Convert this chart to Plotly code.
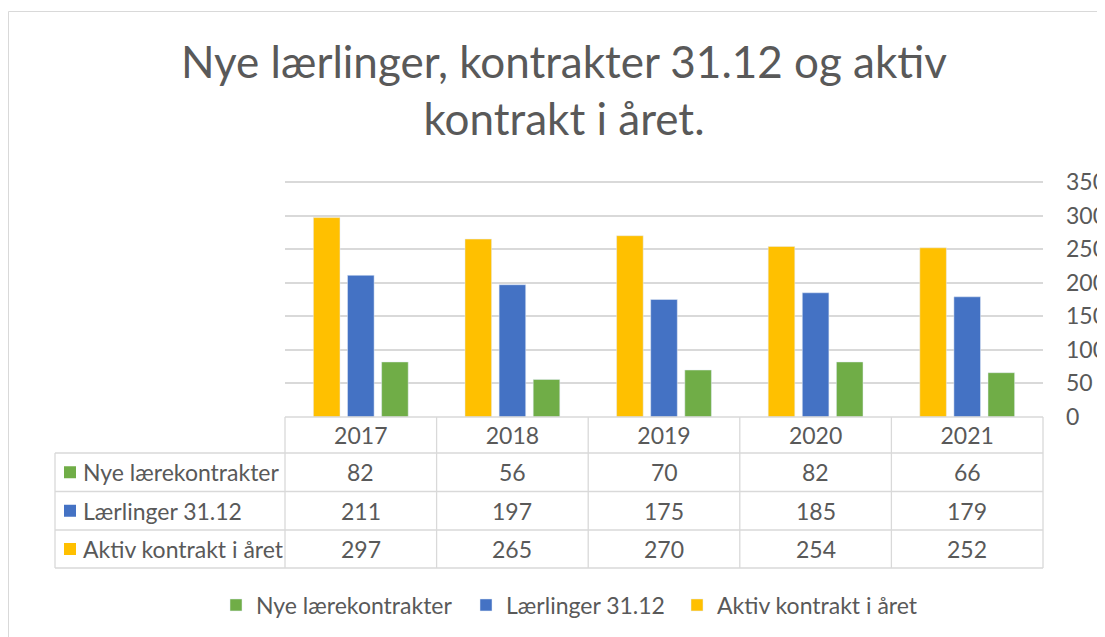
import plotly.graph_objects as go

# ---------------- data ----------------
years = ["2017", "2018", "2019", "2020", "2021"]
name_nye = "Nye lærekontrakter"
name_laer = "Lærlinger 31.12"
name_aktiv = "Aktiv kontrakt i året"
nye = [82, 56, 70, 82, 66]
laerlinger = [211, 197, 175, 185, 179]
aktiv = [297, 265, 270, 254, 252]
y_ticks = [0, 50, 100, 150, 200, 250, 300, 350]

# ---------------- style ----------------
C_NYE = "#70AD47"
C_LAER = "#4472C4"
C_AKTIV = "#FFC000"
TXT = "#595959"
GRID = "#D9D9D9"
FONT = "Lato"

OFF = 8  # default page margin of the html body
W, H = 1105 - OFF, 637 - OFF
# plot area in page pixels (reference coordinates)
PL, PR, PT, PB = 285, 1043, 179, 417
L, R, T, B = PL - OFF, PR - OFF, PT - OFF, PB - OFF
Y_MAX = 350 * (PB - PT) / (PB - 182)  # 350 lands on page y = 182


def px_x(px):  # page pixel -> paper
    return (px - OFF - L) / (R - L)


def px_y(py):
    return (B - (py - OFF)) / (B - T)


fig = go.Figure()
# bar order inside a group: yellow, blue, green
fig.add_trace(go.Bar(x=years, y=aktiv, name=name_aktiv, marker_color=C_AKTIV,
                     legend="legend3", showlegend=True))
fig.add_trace(go.Bar(x=years, y=laerlinger, name=name_laer, marker_color=C_LAER,
                     legend="legend2", showlegend=True))
fig.add_trace(go.Bar(x=years, y=nye, name=name_nye, marker_color=C_NYE,
                     legend="legend", showlegend=True))

# ---------------- data table ----------------
rows = [(name_nye, nye, C_NYE), (name_laer, laerlinger, C_LAER), (name_aktiv, aktiv, C_AKTIV)]
row_edges = [453, 491.5, 530, 568]
header_top = 417
n = len(years)
shapes = []
line = dict(color=GRID, width=1.3)
# horizontal lines
shapes.append(dict(type="line", xref="paper", yref="paper", x0=0, x1=1,
                   y0=px_y(header_top), y1=px_y(header_top), line=line))
for ye in row_edges:
    shapes.append(dict(type="line", xref="paper", yref="paper", x0=px_x(55), x1=1,
                       y0=px_y(ye), y1=px_y(ye), line=line))
# vertical lines
for i in range(n + 1):
    shapes.append(dict(type="line", xref="paper", yref="paper", x0=i / n, x1=i / n,
                       y0=px_y(header_top), y1=px_y(row_edges[-1]), line=line))
shapes.append(dict(type="line", xref="paper", yref="paper", x0=px_x(55), x1=px_x(55),
                   y0=px_y(row_edges[0]), y1=px_y(row_edges[-1]), line=line))

annotations = []
for r, (nm, vals, col) in enumerate(rows):
    yc = (row_edges[r] + row_edges[r + 1]) / 2
    shapes.append(dict(type="rect", xref="paper", yref="paper", x0=px_x(64), x1=px_x(76),
                       y0=px_y(yc + 6), y1=px_y(yc - 6), fillcolor=col, line=dict(width=0)))
    annotations.append(dict(xref="paper", yref="paper", x=px_x(81), y=px_y(yc), text=nm,
                            xanchor="left", yanchor="middle", showarrow=False,
                            font=dict(family=FONT, size=23, color=TXT)))
    for i, v in enumerate(vals):
        annotations.append(dict(xref="x", yref="paper", x=i, y=px_y(yc), text=str(v),
                                xanchor="center", yanchor="middle", showarrow=False,
                                font=dict(family=FONT, size=23, color=TXT)))

# outer chart border
shapes.append(dict(type="rect", xref="paper", yref="paper", x0=px_x(8.5), x1=px_x(1130),
                   y0=px_y(660), y1=px_y(11.5), line=dict(color=GRID, width=1), layer="below"))

leg_common = dict(orientation="h", yanchor="middle", y=px_y(605), xanchor="left",
                  font=dict(family=FONT, size=23, color=TXT), bgcolor="rgba(0,0,0,0)",
                  borderwidth=0)

fig.update_layout(
    width=W, height=H,
    margin=dict(l=L, r=W - R, t=T, b=H - B, pad=0, autoexpand=False),
    paper_bgcolor="white", plot_bgcolor="white",
    font=dict(family=FONT, color=TXT),
    showlegend=True,
    title=dict(text="Nye lærlinger, kontrakter 31.12 og aktiv<br>kontrakt i året.",
               x=(564 - OFF) / W, xanchor="center", xref="container",
               y=1 - 70 / H, yanchor="top", yref="container",
               font=dict(family=FONT, size=44, color=TXT)),
    barmode="group", bargap=0.325, bargroupgap=0.22,
    xaxis=dict(type="category", range=[-0.5, 4.5], showgrid=False, zeroline=False,
               showline=False, ticks="", tickfont=dict(family=FONT, size=23, color=TXT),
               ticklabelstandoff=3, fixedrange=True, automargin=False),
    yaxis=dict(side="right", range=[0, Y_MAX], tickvals=y_ticks, showgrid=True,
               gridcolor=GRID, gridwidth=1.5, zeroline=False, showline=False,
               ticks="", ticklabelstandoff=22, automargin=False,
               tickfont=dict(family=FONT, size=23, color=TXT), fixedrange=True),
    legend=dict(leg_common, x=px_x(234 - 18)),
    legend2=dict(leg_common, x=px_x(484 - 18)),
    legend3=dict(leg_common, x=px_x(695 - 18)),
    shapes=shapes,
    annotations=annotations,
)

fig.write_html("out.html")
